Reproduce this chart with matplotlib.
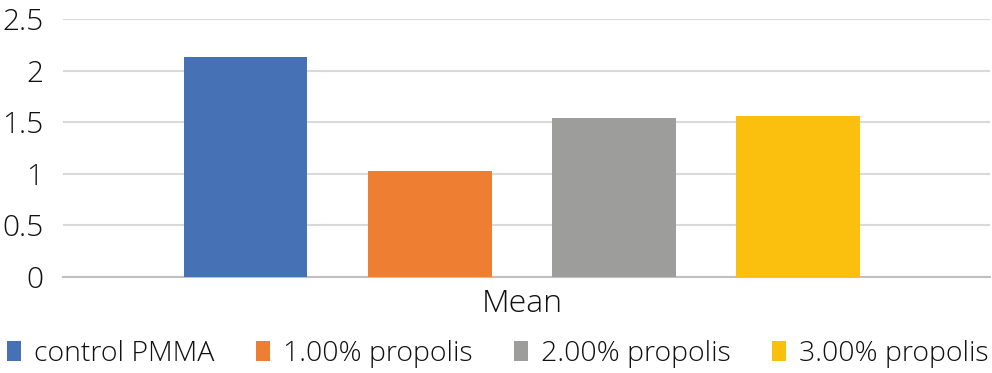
import numpy as np
import matplotlib.pyplot as plt
from matplotlib.patches import Patch

# values
groups = ['control PMMA', '1.00% propolis', '2.00% propolis', '3.00% propolis']
means = [2.13, 1.02, 1.54, 1.56]
category = ['Mean']
colors = ['#4672b5', '#ee7f32', '#9d9d9b', '#fbc00e']

plt.rcParams['font.family'] = ['Open Sans', 'DejaVu Sans']

fig = plt.figure(figsize=(9.92, 3.73), dpi=100)
ax = fig.add_axes([0.0635, 0.2587, 0.9345, 0.6903])

x = np.arange(len(groups))
ax.bar(x, means, width=0.672, color=colors, zorder=3)

ax.set_ylim(0, 2.5)
ax.set_xlim(-0.99, 4.04)
ax.set_yticks(np.arange(0, 2.51, 0.5))
ax.set_yticklabels(['0', '0.5', '1', '1.5', '2', '2.5'])
ax.set_xticks([x.mean()])
ax.set_xticklabels(category)

ax.yaxis.grid(True, color='#d9d9d9', linewidth=1.5, zorder=0)
for s in ['top', 'right', 'left']:
    ax.spines[s].set_visible(False)
ax.spines['bottom'].set_color('#bfbfbf')
ax.spines['bottom'].set_linewidth(1.5)
ax.tick_params(axis='both', length=0, colors='#111111')
ax.tick_params(axis='y', pad=14, labelsize=21.5)
ax.tick_params(axis='x', pad=8, labelsize=23)
for t in ax.get_xticklabels() + ax.get_yticklabels():
    t.set_fontweight('light')

handles = [Patch(facecolor=c, edgecolor='none') for c in colors]
leg = fig.legend(handles, groups, loc='lower left', bbox_to_anchor=(-0.013, -0.04), ncol=4,
                 frameon=False, fontsize=20.5, handlelength=0.5, handleheight=0.75,
                 handletextpad=0.45, columnspacing=1.45, borderpad=0.2)
for t in leg.get_texts():
    t.set_fontweight('light')
    t.set_color('#111111')

fig.savefig('out.png', dpi=100)
